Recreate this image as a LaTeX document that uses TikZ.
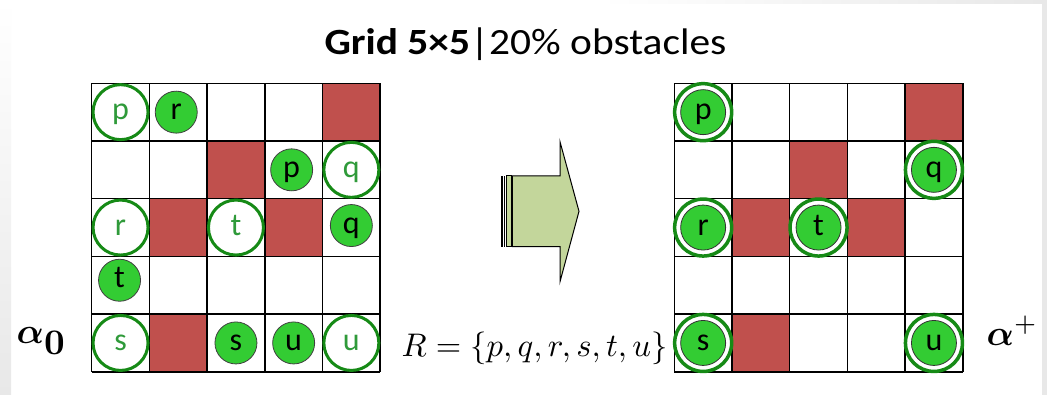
\documentclass[tikz,border=0pt]{standalone}
\usepackage{amsmath,amssymb,bm}
\usepackage[no-math]{fontspec}
\setmainfont{Carlito}
\definecolor{obst}{HTML}{C0504D}
\definecolor{tokgreen}{HTML}{33CC33}
\definecolor{ringgreen}{HTML}{168A16}
\definecolor{lettergreen}{HTML}{2F9A3A}
\definecolor{arrowfill}{HTML}{C3D69B}
\definecolor{bggray}{HTML}{E8E8E8}
\tikzset{
  gridline/.style={line width=1.5pt, draw=black},
  obstacle/.style={fill=obst},
  letterfont/.style={font=\fontsize{32}{32}\selectfont, text height=15pt, text depth=0pt},
  hollow/.style={circle, draw=ringgreen, line width=3pt, fill=white, minimum size=55pt, inner sep=0pt, text=lettergreen, letterfont},
  token/.style={circle, draw=black!75, line width=0.8pt, fill=tokgreen, minimum size=42pt, inner sep=0pt, text=black, letterfont},
  ring/.style={circle, draw=ringgreen, line width=3.5pt, fill=white, minimum size=57pt, inner sep=0pt},
  bigtoken/.style={circle, draw=black!80, line width=0.8pt, fill=tokgreen, minimum size=45pt, inner sep=0pt, text=black, letterfont},
  alphalabel/.style={inner sep=0pt, font=\fontsize{10}{10}\selectfont, scale=3.6},
  setlabel/.style={inner sep=0pt, font=\fontsize{10}{10}\selectfont, scale=3.27},
  arrowshape/.style={draw=black, line width=1pt, fill=arrowfill, line join=miter}
}
\begin{document}
\begin{tikzpicture}[x=1pt,y=-1pt]
\useasboundingbox (0,0) rectangle (1047,395);
% slide background
\fill[white] (0,0) rectangle (1047,395);
\shade[top color=white, bottom color=bggray] (0,0) rectangle (11,395);
\fill[bggray] (1042,0) rectangle (1047,395);
\shade[left color=white, right color=bggray] (600,0) rectangle (1042,4);

% title
\node[anchor=base, inner sep=0pt, xscale=1.12, font=\fontsize{37}{37}\selectfont] (title) at (525.5,54.3)
  {\textbf{Grid 5×5}|20\% obstacles};

% grids
\foreach \gx in {91.7, 674.3} {
  \foreach \c/\r in {4/0, 2/1, 1/2, 3/2, 1/4}
    \fill[obstacle] ({\gx+57.7*\c},{83.3+57.7*\r}) rectangle ++(57.7,57.7);
  \foreach \i in {0,...,5} {
    \draw[gridline] ({\gx+57.7*\i},83.3) -- ({\gx+57.7*\i},{83.3+5*57.7});
    \draw[gridline] (\gx,{83.3+57.7*\i}) -- ({\gx+5*57.7},{83.3+57.7*\i});
  }
}

% left grid: targets (hollow) and agents (filled)
\foreach \n/\c/\r in {p/0/0, q/4/1, r/0/2, t/2/2, s/0/4, u/4/4}
  \node[hollow] (L-goal-\n) at ({91.7+57.7*(\c+0.5)},{83.3+57.7*(\r+0.5)}) {\n};
\foreach \n/\c/\r/\dx/\dy in {r/1/0/-2/0, p/3/1/-2/0, q/4/2/0/-2, t/0/3/-1/-5, s/2/4/0/0, u/3/4/0/0}
  \node[token] (L-agent-\n) at ({91.7+57.7*(\c+0.5)+\dx},{83.3+57.7*(\r+0.5)+\dy}) {\n};

% right grid: agents on their targets
\foreach \n/\c/\r in {p/0/0, q/4/1, r/0/2, t/2/2, s/0/4, u/4/4} {
  \node[ring] (R-goal-\n) at ({674.3+57.7*(\c+0.5)},{83.3+57.7*(\r+0.5)}) {};
  \node[bigtoken] (R-agent-\n) at (R-goal-\n.center) {\n};
}

% block arrow
\fill[black] (500.7,176) rectangle (502.9,246.7);
\fill[black] (503.5,176) rectangle (504.9,246.7);
\draw[arrowshape] (506,176) rectangle (511.3,246.7);
\draw[arrowshape] (512.3,176) -- (560,176) -- (560,141.7) -- (579,211.3)
  -- (560,281.7) -- (560,246.7) -- (512.3,246.7) -- cycle;

% labels
\node[alphalabel, anchor=base west] (alpha0) at (16,343.3) {$\boldsymbol{\alpha}_{\textstyle\mathbf{0}}$};
\node[alphalabel, anchor=base west] (alphaplus) at (986,345) {$\boldsymbol{\alpha}^{+}$};
\node[setlabel, anchor=base west] (Rset) at (401,356.7)
  {$R=\{p,q,r,s,t,u\}$};
\end{tikzpicture}
\end{document}
